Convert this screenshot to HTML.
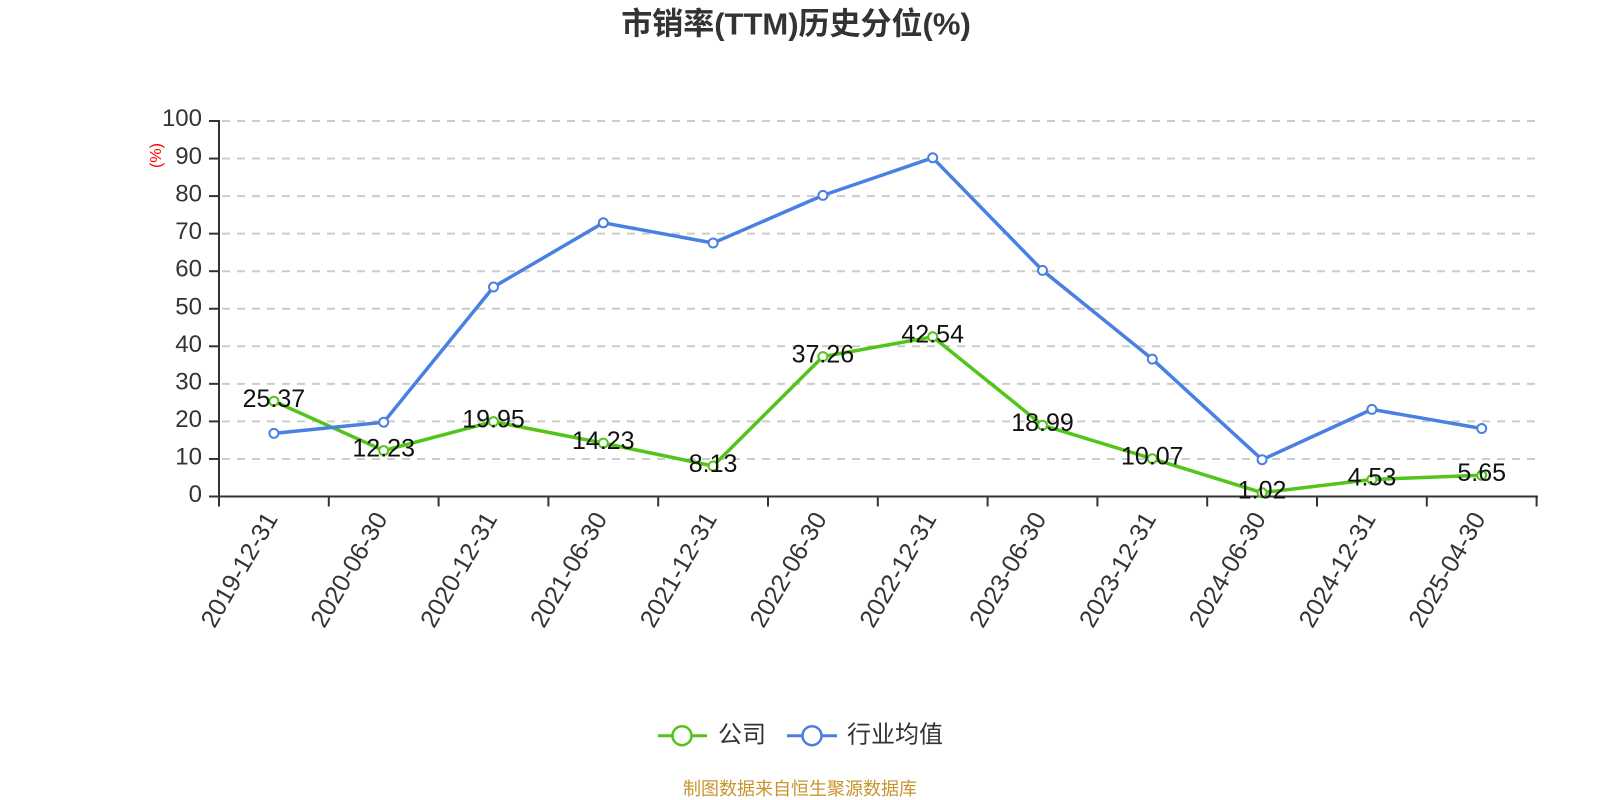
<!DOCTYPE html>
<html>
<head>
<meta charset="utf-8">
<style>
html,body{margin:0;padding:0;background:#fff;}
svg{display:block;}
text{font-family:"Liberation Sans","Noto Sans CJK SC",sans-serif;}
</style>
</head>
<body>
<svg width="1600" height="800" viewBox="0 0 1600 800" xmlns="http://www.w3.org/2000/svg">
<rect width="1600" height="800" fill="#fff"/>
<!-- title -->
<text x="796" y="24" text-anchor="middle" dominant-baseline="central" font-size="31" font-weight="bold" fill="#333">市销率(TTM)历史分位(%)</text>

<!-- grid lines -->
<g stroke="#cccccc" stroke-width="2" stroke-dasharray="8 7">
<line x1="222" y1="458.95" x2="1537" y2="458.95"/>
<line x1="222" y1="421.4" x2="1537" y2="421.4"/>
<line x1="222" y1="383.85" x2="1537" y2="383.85"/>
<line x1="222" y1="346.3" x2="1537" y2="346.3"/>
<line x1="222" y1="308.75" x2="1537" y2="308.75"/>
<line x1="222" y1="271.2" x2="1537" y2="271.2"/>
<line x1="222" y1="233.65" x2="1537" y2="233.65"/>
<line x1="222" y1="196.1" x2="1537" y2="196.1"/>
<line x1="222" y1="158.55" x2="1537" y2="158.55"/>
<line x1="222" y1="121" x2="1537" y2="121"/>
</g>

<!-- axes -->
<g stroke="#333" stroke-width="2">
<line x1="219" y1="120" x2="219" y2="497.5"/>
<line x1="218" y1="496.5" x2="1538" y2="496.5"/>
<!-- y ticks -->
<line x1="209" y1="496.5" x2="219" y2="496.5"/>
<line x1="209" y1="458.95" x2="219" y2="458.95"/>
<line x1="209" y1="421.4" x2="219" y2="421.4"/>
<line x1="209" y1="383.85" x2="219" y2="383.85"/>
<line x1="209" y1="346.3" x2="219" y2="346.3"/>
<line x1="209" y1="308.75" x2="219" y2="308.75"/>
<line x1="209" y1="271.2" x2="219" y2="271.2"/>
<line x1="209" y1="233.65" x2="219" y2="233.65"/>
<line x1="209" y1="196.1" x2="219" y2="196.1"/>
<line x1="209" y1="158.55" x2="219" y2="158.55"/>
<line x1="209" y1="121" x2="219" y2="121"/>
<!-- x ticks -->
<line x1="219" y1="496.5" x2="219" y2="506.5"/>
<line x1="328.8" y1="496.5" x2="328.8" y2="506.5"/>
<line x1="438.6" y1="496.5" x2="438.6" y2="506.5"/>
<line x1="548.4" y1="496.5" x2="548.4" y2="506.5"/>
<line x1="658.2" y1="496.5" x2="658.2" y2="506.5"/>
<line x1="768" y1="496.5" x2="768" y2="506.5"/>
<line x1="877.8" y1="496.5" x2="877.8" y2="506.5"/>
<line x1="987.6" y1="496.5" x2="987.6" y2="506.5"/>
<line x1="1097.4" y1="496.5" x2="1097.4" y2="506.5"/>
<line x1="1207.2" y1="496.5" x2="1207.2" y2="506.5"/>
<line x1="1317" y1="496.5" x2="1317" y2="506.5"/>
<line x1="1426.8" y1="496.5" x2="1426.8" y2="506.5"/>
<line x1="1536.6" y1="496.5" x2="1536.6" y2="506.5"/>
</g>

<!-- y labels -->
<g font-size="24" fill="#333" text-anchor="end" dominant-baseline="central">
<text x="202" y="494.5">0</text>
<text x="202" y="457">10</text>
<text x="202" y="419.4">20</text>
<text x="202" y="381.9">30</text>
<text x="202" y="344.3">40</text>
<text x="202" y="306.8">50</text>
<text x="202" y="269.2">60</text>
<text x="202" y="231.7">70</text>
<text x="202" y="194.1">80</text>
<text x="202" y="156.6">90</text>
<text x="202" y="118.5">100</text>
</g>
<text transform="translate(156.5,155.5) rotate(-90)" text-anchor="middle" dominant-baseline="central" font-size="16" fill="#ff0000">(%)</text>

<!-- x labels -->
<g font-size="25" fill="#333" text-anchor="end">
<text transform="translate(278.4,518.5) rotate(-60)">2019-12-31</text>
<text transform="translate(388.2,518.5) rotate(-60)">2020-06-30</text>
<text transform="translate(498,518.5) rotate(-60)">2020-12-31</text>
<text transform="translate(607.8,518.5) rotate(-60)">2021-06-30</text>
<text transform="translate(717.6,518.5) rotate(-60)">2021-12-31</text>
<text transform="translate(827.4,518.5) rotate(-60)">2022-06-30</text>
<text transform="translate(937.2,518.5) rotate(-60)">2022-12-31</text>
<text transform="translate(1047,518.5) rotate(-60)">2023-06-30</text>
<text transform="translate(1156.8,518.5) rotate(-60)">2023-12-31</text>
<text transform="translate(1266.6,518.5) rotate(-60)">2024-06-30</text>
<text transform="translate(1376.4,518.5) rotate(-60)">2024-12-31</text>
<text transform="translate(1486.2,518.5) rotate(-60)">2025-04-30</text>
</g>

<!-- green series 公司 -->
<polyline fill="none" stroke="#52c41a" stroke-width="3.5" stroke-linejoin="round"
points="273.9,401.2 383.7,450.6 493.5,421.6 603.3,443.1 713.1,466.0 822.9,356.6 932.7,336.8 1042.5,425.2 1152.3,458.7 1262.1,492.7 1371.9,479.5 1481.7,475.3"/>
<g fill="#fff" stroke="#52c41a" stroke-width="2">
<circle cx="273.9" cy="401.2" r="4.5"/>
<circle cx="383.7" cy="450.6" r="4.5"/>
<circle cx="493.5" cy="421.6" r="4.5"/>
<circle cx="603.3" cy="443.1" r="4.5"/>
<circle cx="713.1" cy="466.0" r="4.5"/>
<circle cx="822.9" cy="356.6" r="4.5"/>
<circle cx="932.7" cy="336.8" r="4.5"/>
<circle cx="1042.5" cy="425.2" r="4.5"/>
<circle cx="1152.3" cy="458.7" r="4.5"/>
<circle cx="1262.1" cy="492.7" r="4.5"/>
<circle cx="1371.9" cy="479.5" r="4.5"/>
<circle cx="1481.7" cy="475.3" r="4.5"/>
</g>

<!-- blue series 行业均值 -->
<polyline fill="none" stroke="#4a80e2" stroke-width="3.5" stroke-linejoin="round"
points="273.9,433.4 383.7,422.2 493.5,287.0 603.3,222.8 713.1,243.0 822.9,195.4 932.7,157.8 1042.5,270.4 1152.3,359.1 1262.1,459.7 1371.9,409.4 1481.7,428.5"/>
<g fill="#fff" stroke="#4a80e2" stroke-width="2">
<circle cx="273.9" cy="433.4" r="4.5"/>
<circle cx="383.7" cy="422.2" r="4.5"/>
<circle cx="493.5" cy="287.0" r="4.5"/>
<circle cx="603.3" cy="222.8" r="4.5"/>
<circle cx="713.1" cy="243.0" r="4.5"/>
<circle cx="822.9" cy="195.4" r="4.5"/>
<circle cx="932.7" cy="157.8" r="4.5"/>
<circle cx="1042.5" cy="270.4" r="4.5"/>
<circle cx="1152.3" cy="359.1" r="4.5"/>
<circle cx="1262.1" cy="459.7" r="4.5"/>
<circle cx="1371.9" cy="409.4" r="4.5"/>
<circle cx="1481.7" cy="428.5" r="4.5"/>
</g>

<!-- data labels -->
<g font-size="25" fill="#111" text-anchor="middle" dominant-baseline="central">
<text x="273.9" y="399">25.37</text>
<text x="383.7" y="448.5">12.23</text>
<text x="493.5" y="419.5">19.95</text>
<text x="603.3" y="441">14.23</text>
<text x="713.1" y="464">8.13</text>
<text x="822.9" y="354.5">37.26</text>
<text x="932.7" y="334.7">42.54</text>
<text x="1042.5" y="423">18.99</text>
<text x="1152.3" y="456.5">10.07</text>
<text x="1262.1" y="490.5">1.02</text>
<text x="1371.9" y="477.5">4.53</text>
<text x="1481.7" y="473">5.65</text>
</g>

<!-- legend -->
<line x1="658" y1="735.7" x2="707" y2="735.7" stroke="#52c41a" stroke-width="3"/>
<circle cx="682" cy="735.7" r="9.5" fill="#fff" stroke="#52c41a" stroke-width="2.5"/>
<text x="718" y="735" dominant-baseline="central" font-size="24" fill="#333">公司</text>
<line x1="787" y1="735.7" x2="837" y2="735.7" stroke="#4a80e2" stroke-width="3"/>
<circle cx="812" cy="735.7" r="9.5" fill="#fff" stroke="#4a80e2" stroke-width="2.5"/>
<text x="847" y="735" dominant-baseline="central" font-size="24" fill="#333">行业均值</text>

<!-- source -->
<text x="800" y="789" text-anchor="middle" dominant-baseline="central" font-size="18" fill="#c8952c">制图数据来自恒生聚源数据库</text>
</svg>
</body>
</html>
